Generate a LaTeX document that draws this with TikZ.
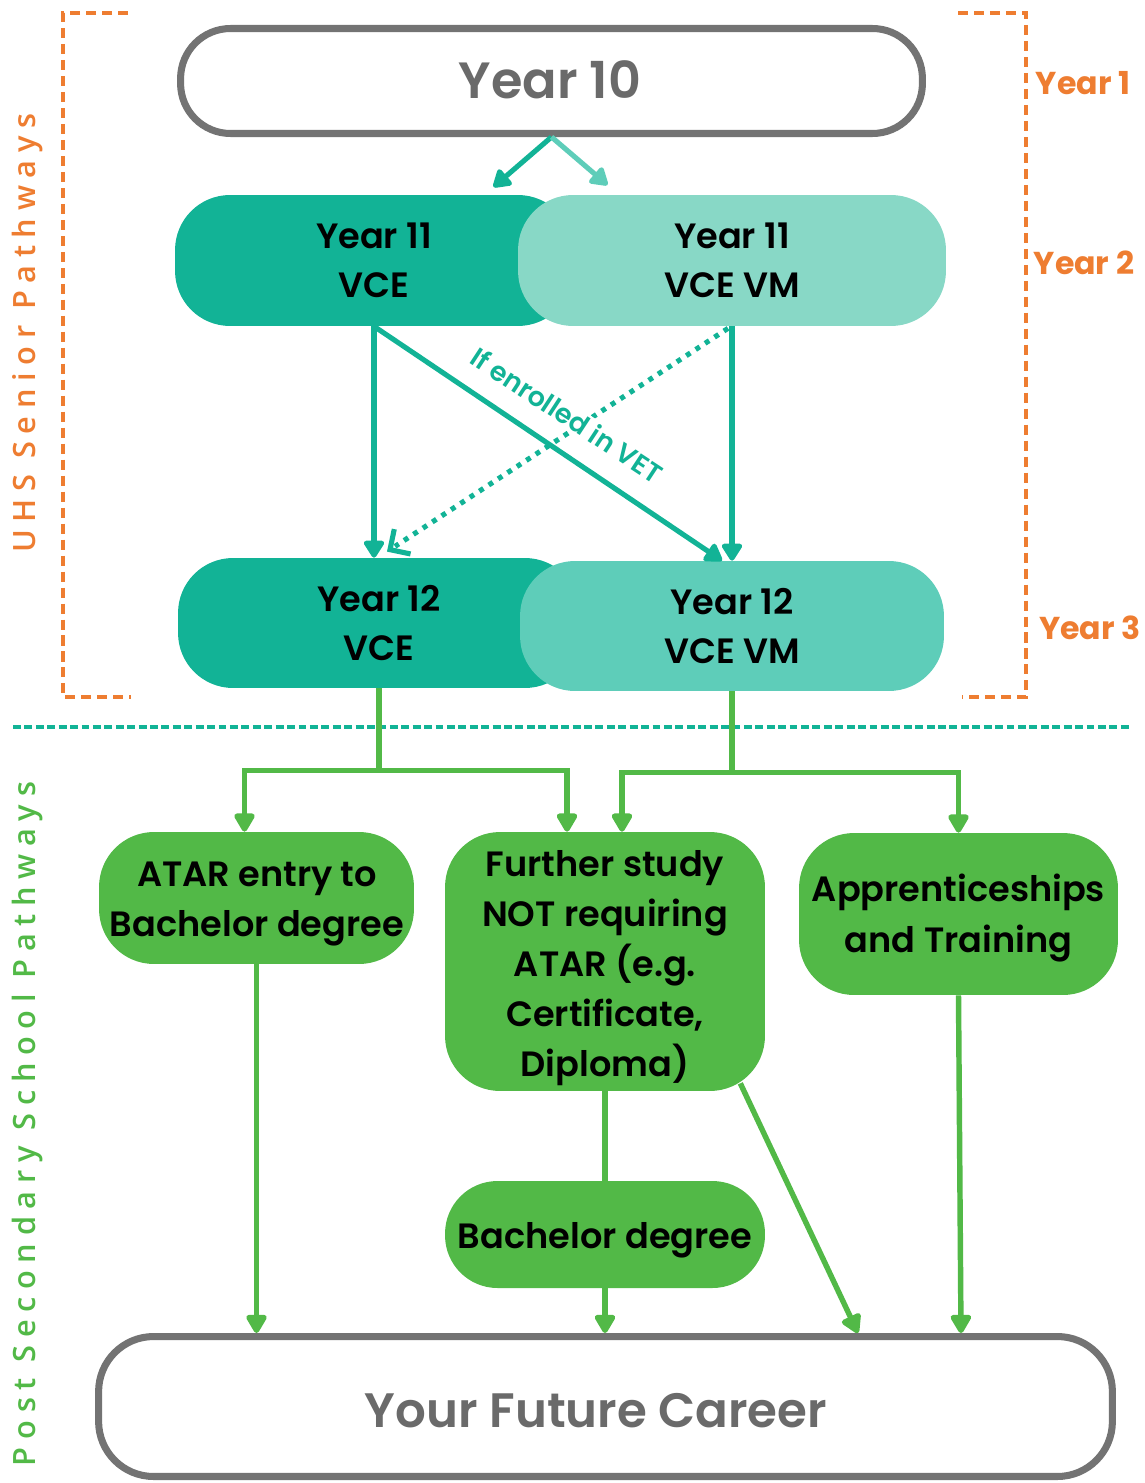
\documentclass[tikz,border=0pt]{standalone}
\usepackage{fontspec}
\usetikzlibrary{arrows.meta,calc}
\IfFontExistsTF{Poppins SemiBold}{\newfontfamily\mainf{Poppins SemiBold}}{%
  \IfFontExistsTF{Poppins Medium}{\newfontfamily\mainf{Poppins Medium}}{\newfontfamily\mainf{Poppins}[UprightFont=*-Bold]}}
\IfFontExistsTF{Poppins Bold}{\newfontfamily\boldf{Poppins Bold}}{\newfontfamily\boldf{Poppins}[UprightFont=*-Bold]}
\IfFontExistsTF{Open Sans Semibold}{\newfontfamily\vlab{Open Sans Semibold}[LetterSpace=25]}{%
  \IfFontExistsTF{Open Sans Medium}{\newfontfamily\vlab{Open Sans Medium}[LetterSpace=25.5]}{%
    \newfontfamily\vlab{Open Sans}[LetterSpace=26,FakeBold=1.3]}}
\definecolor{tealdark}{HTML}{12B396}
\definecolor{teallight}{HTML}{88D8C6}
\definecolor{tealmid}{HTML}{5ECDB9}
\definecolor{pgreen}{HTML}{52B947}
\definecolor{porange}{HTML}{EE7D31}
\definecolor{pgray}{HTML}{737373}
\definecolor{tgray}{HTML}{6A6A6A}
\begin{document}
\begin{tikzpicture}[x=0.02cm,y=-0.02cm,
  box/.style={rounded corners=1.1cm, inner sep=0pt, align=center, text=black,
    font=\mainf\fontsize{20}{28}\selectfont},
  tbox/.style={box, minimum height=2.62cm},
  gbox/.style={box, fill=pgreen},
  gtext/.style={inner sep=0pt, align=center, text=black, font=\mainf\fontsize{20}{28.5}\selectfont},
  outline/.style={draw=pgray, line width=4pt, fill=white, inner sep=0pt},
  otext/.style={inner sep=0pt, text=tgray, font=\mainf\fontsize{29}{34}\selectfont},
  tarrow/.style={draw=tealdark, line width=2.9pt, -{Triangle[width=13pt,length=11pt,round]}},
  dotline/.style={draw=tealdark, line width=2.9pt, dash pattern=on 2.8pt off 3.6pt},
  chevron/.style={draw=tealdark, line width=2.9pt, solid, line join=miter, line cap=butt},
  gline/.style={draw=pgreen, line width=3.1pt},
  garrow/.style={gline, -{Triangle[width=13pt,length=12pt,round]}},
  bracket/.style={draw=porange, line width=2.2pt, dash pattern=on 5.7pt off 3.4pt},
  divider/.style={draw=tealdark, line width=1.8pt, dash pattern=on 4.5pt off 2pt},
  ylab/.style={text=porange, inner sep=0pt, font=\boldf\fontsize{18}{20}\selectfont},
  vtext/.style={rotate=90, inner sep=0pt, font=\vlab\fontsize{17.5}{20}\selectfont}
]
\useasboundingbox (0,0) rectangle (1145,1483);

% brackets and divider
\draw[bracket] (128,13) -- (63,13) -- (63,697) -- (131,697);
\draw[bracket] (958,13) -- (1026,13) -- (1026,697) -- (962,697);
\draw[divider] (13,727) -- (1130,727);

% side labels
\node[vtext, text=porange] (v1) at (28,333) {UHS Senior Pathways};
\node[vtext, text=pgreen] (v2) at (28,1124) {Post Secondary School Pathways};
\node[ylab] (l1) at (1083,83) {Year 1};
\node[ylab] (l2) at (1084,263) {Year 2};
\node[ylab] (l3) at (1090,628) {Year 3};

% school boxes
\node[outline, minimum width=14.84cm, minimum height=2.1cm, rounded corners=1.0cm] (y10) at (551.5,81) {};
\node[otext] (y10t) at (550,80) {Year 10};
\node[tbox, fill=tealdark, minimum width=7.96cm] (y11a) at (374,260.5) {Year 11\\VCE};
\node[tbox, fill=teallight, minimum width=8.56cm] (y11b) at (732,260.5) {Year 11\\VCE VM};
\node[tbox, fill=tealdark, minimum width=8.04cm, minimum height=2.6cm] (y12a) at (379,623) {Year 12\\VCE};
\node[tbox, fill=tealmid, minimum width=8.48cm, minimum height=2.6cm] (y12b) at (732,626) {Year 12\\VCE VM};

% post school boxes
\node[gbox, minimum width=6.3cm, minimum height=2.64cm] (atar) at (256.5,898) {};
\node[gtext] (atart) at (257,904) {ATAR entry to\\Bachelor degree};
\node[gbox, minimum width=6.4cm, minimum height=5.18cm] (further) at (605,961.5) {};
\node[gtext] (furthert) at (605,968) {Further study\\NOT requiring\\ATAR (e.g.\\Certificate,\\Diploma)};
\node[gbox, minimum width=6.38cm, minimum height=3.24cm] (appr) at (958.5,914) {};
\node[gtext] (apprt) at (958.5,918) {Apprenticeships\\and Training};
\node[gbox, minimum width=6.4cm, minimum height=2.14cm, rounded corners=1.05cm] (bach) at (605,1234.5) {};
\node[gtext] (bacht) at (605,1240) {Bachelor degree};
\node[outline, minimum width=20.28cm, minimum height=2.8cm, rounded corners=1.1cm] (career) at (605.5,1406.5) {};
\node[otext, font=\mainf\fontsize{27.5}{32}\selectfont] (careert) at (596,1411) {Your Future Career};

% teal connectors
\draw[tarrow] (y10.south) -- ++(-58,50);
\draw[tarrow, draw=tealmid] (y10.south) -- ++(56,48);
\draw[tarrow] (y11a.south) -- (y11a.south |- y12a.north);
\coordinate (ds) at ([xshift=-0.08cm,yshift=-0.04cm]y11b.south);
\coordinate (de) at ([xshift=0.22cm,yshift=0.16cm]y12a.north);
\draw[dotline] (ds) -- ($(de)!0.12cm!(ds)$);
\draw[chevron] ($(de)!0.42cm!45:(ds)$) -- (de) -- ($(de)!0.42cm!-45:(ds)$);
\node[rotate=-33.3, text=tealdark, fill=white, inner sep=1pt, font=\mainf\fontsize{15.3}{17}\selectfont] (vet) at (567,415) {If enrolled in VET};
\draw[tarrow] (y11a.south) -- ([xshift=-0.2cm]y12b.north);
\draw[tarrow] (y11b.south) -- (y12b.north);

% green connectors
\path (y12a.south) ++(0,82) coordinate (j1);
\path (y12b.south) ++(0,81) coordinate (j2);
\draw[garrow] (y12a.south) -- (j1) -| ([xshift=-0.24cm]atar.north);
\draw[garrow] (j1) -| ([xshift=-0.76cm]further.north);
\draw[garrow] (y12b.south) -- (j2) -| ([xshift=0.34cm]further.north);
\draw[garrow] (j2) -| (appr.north);

\draw[garrow] (atar.south) -- (atar.south |- career.north);
\draw[gline] (further.south) -- (bach.north);
\draw[garrow] (bach.south) -- (bach.south |- career.north);
\draw[garrow] ([xshift=-0.5cm,yshift=0.16cm]further.south east) -- ([xshift=5.05cm]career.north);
\draw[garrow] (appr.south) -- ([xshift=0.05cm]appr.south |- career.north);
\end{tikzpicture}
\end{document}
